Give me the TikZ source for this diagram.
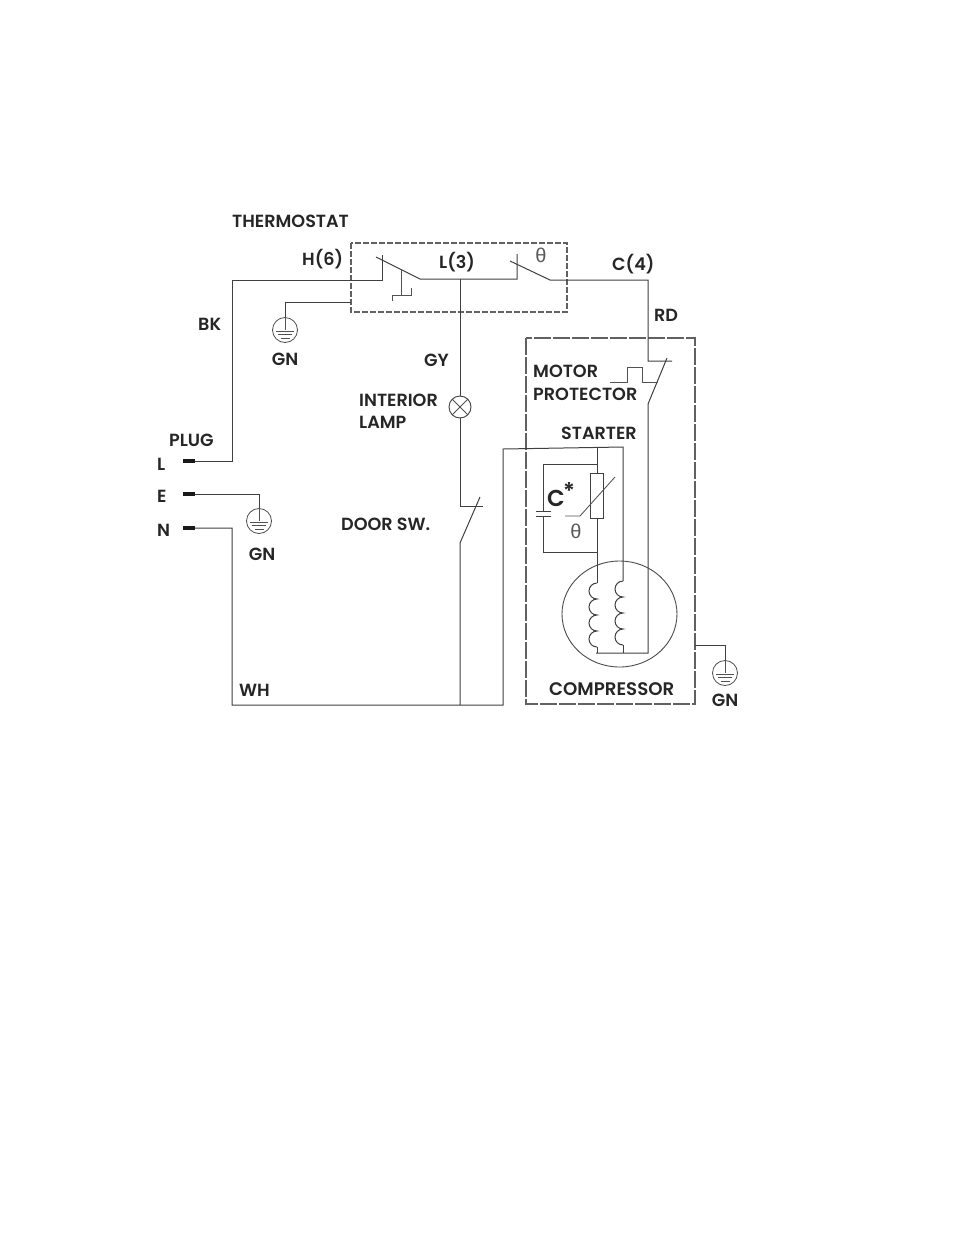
\documentclass[tikz,border=0pt]{standalone}
\usepackage{fontspec}
\setmainfont{Poppins SemiBold}
\newfontfamily\thetafont{Liberation Sans}
\tikzset{
  wire/.style={line width=1pt,draw=black!75,line join=miter},
  thin wire/.style={line width=0.85pt,draw=black!68},
  term/.style={line width=3.4pt,draw=black!90},
  tbox/.style={line width=1.1pt,draw=black!62,dash pattern=on 6pt off 2pt},
  cbox/.style={line width=1.1pt,draw=black!62,dash pattern=on 17pt off 2pt},
  lab/.style={inner sep=0pt,text=black!85,font=\fontsize{17.6}{20}\selectfont},
  greek/.style={inner sep=0pt,text=black!65,font=\thetafont\fontsize{20}{20}\selectfont},
  gcircle/.style={circle,draw=black!70,line width=0.8pt,minimum size=25pt,inner sep=0pt},
  lampc/.style={circle,draw=black!75,line width=0.9pt,minimum size=22pt,inner sep=0pt}
}
\newcommand{\gsym}[2]{% name, at
  \node[gcircle] (#1) at (#2) {};
  \draw[thin wire] (#1.center) ++(-9,1) -- ++(18,0);
  \draw[thin wire] (#1.center) ++(-7,4.5) -- ++(14,0);
  \draw[thin wire] (#1.center) ++(-4.5,8) -- ++(9,0);
  \draw[thin wire] (#1.north) -- (#1.center);
}
\newcommand{\coil}[2]{% top, end name
  \draw[wire] (#1) arc[start angle=270,end angle=90,radius=8]
    arc[start angle=270,end angle=90,radius=8]
    arc[start angle=270,end angle=90,radius=8]
    arc[start angle=270,end angle=90,radius=8] coordinate (#2);
}
\begin{document}
\begin{tikzpicture}[x=1pt,y=-1pt]
\useasboundingbox[fill=white] (0,0) rectangle (954,1235);
% boxes
\draw[tbox] (351,243) rectangle (567,312);
\draw[cbox] (526,338) rectangle (695,704);
% key points
\coordinate (pL) at (195,461); \coordinate (pLs) at (183,461);
\coordinate (pE) at (195,494); \coordinate (pEs) at (183,494);
\coordinate (pN) at (195,528); \coordinate (pNs) at (183,528);
\coordinate (s1top) at (382,255); \coordinate (s1in) at (382,280);
\coordinate (s1a) at (376,257); \coordinate (s1b) at (420,279);
\coordinate (s2top) at (517,254); \coordinate (s2in) at (517,279);
\coordinate (s2a) at (510,261); \coordinate (s2b) at (550,280);
\coordinate (tap) at (460,279);
\coordinate (mp) at (648,361); \coordinate (mpe) at (672,361);
\coordinate (mb) at (667,358); \coordinate (mc) at (648,404);
\coordinate (cb) at (648,653);
\coordinate (ds) at (460,506); \coordinate (dse) at (483,506);
\coordinate (da) at (480,497); \coordinate (db) at (460,543);
\coordinate (bot) at (460,705);
\coordinate (st) at (503,449); \coordinate (str) at (623,447);
\coordinate (stm) at (597,447.5);
% terminals
\draw[term] (pLs) -- (pL);
\draw[term] (pEs) -- (pE);
\draw[term] (pNs) -- (pN);
% grounds
\gsym{g1}{285,330}
\gsym{g2}{259,521}
\gsym{g3}{725,673}
% lamp
\node[lampc] (lamp) at (460,407) {};
\draw[thin wire] (lamp.north west) -- (lamp.south east);
\draw[thin wire] (lamp.north east) -- (lamp.south west);
% wires
\draw[wire] (pL) -| (232,280) -- (s1in) -- (s1top);
\draw[wire] (s1a) -- (s1b) -- (s2in) -- (s2top);
\draw[wire] (s2a) -- (s2b) -- (648,280) -- (mp) -- (mpe);
\draw[wire] (mb) -- (mc) -- (cb) -- (596,653);
\draw[wire] (351,302) -| (g1.north);
\draw[wire] (pE) -| (g2.north);
\draw[wire] (695,645) -| (g3.north);
\draw[wire] (tap) -- (lamp.north);
\draw[wire] (lamp.south) |- (dse);
\draw[wire] (da) -- (db) -- (bot);
\draw[wire] (pN) -| (232,705) -- (503,705) -- (st) -- (str) -- (623,581);
% thermostat differential
\draw[thin wire] (401,269) -- (401,295);
\draw[thin wire] (392,301) -- (392,295) -- (411,295) -- (411,288);
% motor protector
\draw[thin wire] (610,382) -- (627,382) -- (627,367) -- (642,367) -- (642,382) -- (658,382);
% starter
\node[draw=black!75,line width=1pt,minimum width=13pt,minimum height=45pt,inner sep=0pt] (ptc) at (597,495.5) {};
\draw[wire] (stm) -- (ptc.north);
\draw[wire] (ptc.south) -- (597,583);
\draw[wire] (597,464) -- (543,464) -- (543,511);
\draw[wire] (543,516) -- (543,552) -- (597,552);
\draw[wire] (536,511) -- (551,511);
\draw[wire] (536,516) -- (551,516);
\draw[thin wire] (565,516) -- (580,516) -- (615,477);
% compressor
\draw[line width=0.9pt,draw=black!70] (619.5,614) ellipse[x radius=57.5,y radius=53];
\coil{597,583}{c1}
\coil{623,581}{c2}
\draw[wire] (c1) -- (597,653);
\draw[wire] (c2) -- (623,653);
% labels
\node[lab,anchor=west] (t1) at (232,221) {THERMOSTAT};
\node[lab,anchor=west] (t2) at (302,259) {H(6)};
\node[lab,anchor=west] (t3) at (439,262) {L(3)};
\node[lab,anchor=west] (t4) at (612,264) {C(4)};
\node[greek] (t5) at (541,255) {θ};
\node[lab,anchor=west] (t6) at (654,315) {RD};
\node[lab,anchor=west] (t7) at (198,324) {BK};
\node[lab,anchor=center] (t8) at (285,359) {GN};
\node[lab,anchor=west] (t9) at (424,360) {GY};
\node[lab,anchor=west] (t10) at (533,371) {MOTOR};
\node[lab,anchor=west] (t11) at (533,394) {PROTECTOR};
\node[lab,anchor=west] (t12) at (359,400) {INTERIOR};
\node[lab,anchor=west] (t13) at (359,422) {LAMP};
\node[lab,anchor=west] (t14) at (561,433) {STARTER};
\node[lab,anchor=west] (t15) at (169,440) {PLUG};
\node[lab,anchor=west] (t16) at (157,464) {L};
\node[lab,anchor=west] (t17) at (157,496) {E};
\node[lab,anchor=west] (t18) at (157,530) {N};
\node[lab,anchor=west,font=\fontsize{23}{24}\selectfont] (t19) at (547,498) {C};
\node[lab,anchor=west,font=\fontsize{23}{24}\selectfont] (t20) at (563,491) {*};
\node[greek] (t21) at (576,531) {θ};
\node[lab,anchor=west] (t22) at (341,524) {DOOR\ SW.};
\node[lab,anchor=center] (t23) at (262,554) {GN};
\node[lab,anchor=west] (t24) at (239,690) {WH};
\node[lab,anchor=west,font=\fontsize{18.2}{20}\selectfont] (t25) at (549,689) {COMPRESSOR};
\node[lab,anchor=center] (t26) at (725,700) {GN};
\end{tikzpicture}
\end{document}
